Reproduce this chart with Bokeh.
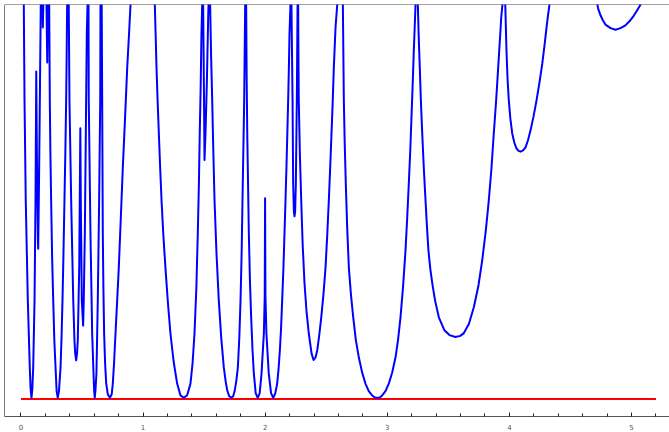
from bokeh.plotting import figure
from bokeh.models import Range1d, SingleIntervalTicker, Span
from bokeh.embed import file_html
from bokeh.resources import INLINE

# Blue curve (values above 10 lie beyond the top of the frame)
curve_x = [
    0.020, 0.023, 0.029, 0.039, 0.056, 0.072, 0.079, 0.086, 0.093, 0.100, 0.111, 0.119, 0.125, 0.130, 0.139, 0.141, 0.149, 0.157, 0.162, 0.167,
    0.175, 0.179, 0.183, 0.188,
    0.204, 0.209, 0.215, 0.220, 0.224,
    0.228, 0.231, 0.236, 0.241, 0.247, 0.255, 0.264, 0.273, 0.283, 0.292, 0.301, 0.311, 0.324, 0.332, 0.340, 0.348, 0.356, 0.363, 0.370, 0.374, 0.378, 0.384,
    0.391, 0.397, 0.411, 0.428, 0.438, 0.444, 0.452, 0.459, 0.465, 0.477, 0.486, 0.490, 0.498, 0.509, 0.514, 0.523, 0.531, 0.539, 0.545, 0.549,
    0.553, 0.555, 0.569, 0.583, 0.594, 0.599, 0.604, 0.610, 0.618, 0.629, 0.640, 0.649, 0.651, 0.656,
    0.661, 0.665, 0.670, 0.675, 0.681, 0.689, 0.698, 0.711, 0.728, 0.743, 0.752, 0.762, 0.774, 0.787, 0.801, 0.817, 0.834, 0.852, 0.870, 0.884, 0.897, 0.910,
    1.085, 1.096, 1.103, 1.110, 1.119, 1.129, 1.140, 1.151, 1.166, 1.183, 1.203, 1.224, 1.250, 1.279, 1.306, 1.333, 1.360, 1.388,
    1.405, 1.421, 1.436, 1.448, 1.457, 1.464, 1.472, 1.478, 1.484, 1.488,
    1.492, 1.499, 1.503, 1.511, 1.522, 1.533, 1.536,
    1.542, 1.549, 1.557, 1.566, 1.575, 1.585, 1.601, 1.620, 1.640, 1.661, 1.676, 1.689, 1.705, 1.722, 1.738, 1.751, 1.764, 1.776,
    1.788, 1.798, 1.807, 1.814, 1.821, 1.828, 1.832, 1.836, 1.840,
    1.842, 1.844, 1.848, 1.853, 1.866, 1.875, 1.885, 1.896, 1.907, 1.922, 1.939, 1.955, 1.970, 1.989, 1.996, 1.999, 2.002, 2.010, 2.029, 2.048, 2.066,
    2.083, 2.098, 2.109, 2.120, 2.130, 2.139, 2.149, 2.158, 2.166, 2.174, 2.181, 2.188, 2.194, 2.199, 2.207, 2.211,
    2.215, 2.224, 2.229, 2.235, 2.240, 2.245, 2.251, 2.259, 2.265, 2.268,
    2.270, 2.272, 2.275, 2.284, 2.295, 2.307, 2.322, 2.339, 2.357, 2.380, 2.396, 2.412, 2.426, 2.442, 2.459, 2.477, 2.494,
    2.508, 2.521, 2.532, 2.543, 2.553, 2.562, 2.576, 2.590, 2.600,
    2.625, 2.636, 2.644, 2.651, 2.660, 2.672, 2.685, 2.702, 2.721, 2.742, 2.767, 2.793, 2.821, 2.848, 2.876, 2.897, 2.917,
    2.938, 2.958, 2.985, 3.012, 3.040, 3.067, 3.088, 3.108, 3.129, 3.149, 3.163, 3.176, 3.188, 3.198, 3.208, 3.217, 3.224, 3.231, 3.241,
    3.250, 3.257, 3.266, 3.275, 3.286, 3.299, 3.313, 3.324, 3.337, 3.352, 3.370, 3.391, 3.422, 3.468, 3.509, 3.558, 3.598, 3.627,
    3.668, 3.708, 3.745, 3.777, 3.806, 3.831, 3.853, 3.872, 3.891, 3.908, 3.922, 3.933, 3.943, 3.954,
    3.962, 3.966, 3.976, 3.985, 3.995, 4.008, 4.023, 4.040, 4.058, 4.075, 4.091, 4.112, 4.132, 4.152, 4.173, 4.198, 4.222,
    4.246, 4.269, 4.287, 4.304, 4.316, 4.328, 4.345,
    4.700, 4.719, 4.727, 4.747, 4.765, 4.787, 4.828, 4.869, 4.910, 4.950, 4.985, 5.019, 5.048, 5.074, 5.100,
]
curve_y = [
    11.0, 10.0, 7.57, 5.03, 2.50, 0.80, 0.25, 0.03, 0.25, 0.80, 2.50, 5.03, 8.30, 6.30, 4.00, 3.81, 5.87, 8.40, 10.0, 11.0,
    10.0, 9.42, 10.0, 11.0,
    11.0, 10.0, 8.53, 10.0, 11.0,
    11.0, 10.0, 7.57, 6.20, 5.03, 3.60, 2.50, 1.50, 0.80, 0.20, 0.03, 0.20, 0.80, 1.55, 2.50, 3.70, 5.03, 6.20, 7.57, 8.70, 10.0, 11.0,
    10.0, 7.57, 5.03, 2.50, 1.48, 1.15, 0.98, 1.15, 1.48, 3.33, 6.86, 5.00, 2.50, 1.86, 2.50, 4.20, 6.73, 9.26, 10.0, 11.0,
    10.0, 7.57, 4.20, 1.66, 0.65, 0.22, 0.03, 0.22, 0.65, 2.50, 5.03, 7.57, 10.0, 11.0,
    10.0, 7.57, 4.20, 2.80, 1.66, 0.90, 0.39, 0.12, 0.03, 0.12, 0.39, 0.90, 1.66, 2.45, 3.33, 4.55, 5.87, 7.10, 8.40, 9.20, 10.0, 11.0,
    11.0, 10.0, 9.20, 8.40, 7.55, 6.73, 5.85, 5.03, 4.15, 3.33, 2.45, 1.66, 0.95, 0.39, 0.09, 0.03, 0.09, 0.39,
    0.90, 1.66, 2.80, 4.20, 5.45, 6.73, 8.00, 9.26, 10.0, 11.0,
    10.0, 7.57, 6.06, 6.73, 8.00, 9.67, 10.0,
    11.0, 10.0, 8.70, 7.57, 6.30, 5.03, 3.70, 2.50, 1.55, 0.80, 0.45, 0.22, 0.07, 0.03, 0.07, 0.22, 0.47, 0.80,
    1.55, 2.50, 3.70, 5.03, 6.30, 7.57, 8.80, 10.0, 11.0,
    11.0, 10.0, 8.20, 6.73, 4.20, 3.00, 2.07, 1.25, 0.65, 0.15, 0.03, 0.15, 0.65, 1.66, 2.60, 5.09, 2.60, 1.66, 0.65, 0.15, 0.03,
    0.15, 0.39, 0.75, 1.23, 1.80, 2.50, 3.30, 4.20, 5.00, 5.87, 6.70, 7.57, 8.40, 9.26, 10.0, 11.0,
    10.0, 7.57, 5.46, 4.75, 4.63, 4.75, 5.46, 7.57, 10.0, 11.0,
    10.0, 8.80, 7.57, 6.20, 5.03, 3.90, 2.93, 2.20, 1.66, 1.15, 0.99, 1.05, 1.23, 1.60, 2.07, 2.65, 3.33,
    4.15, 5.03, 5.85, 6.73, 7.55, 8.40, 9.42, 10.0, 11.0,
    11.0, 10.0, 7.57, 6.50, 5.46, 4.30, 3.33, 2.65, 2.07, 1.50, 1.05, 0.68, 0.39, 0.20, 0.09, 0.04, 0.03,
    0.04, 0.09, 0.20, 0.39, 0.67, 1.05, 1.50, 2.07, 2.85, 3.76, 4.60, 5.46, 6.30, 7.14, 8.00, 8.83, 9.40, 10.0, 11.0,
    10.0, 9.20, 8.40, 7.55, 6.73, 5.85, 5.03, 4.40, 3.76, 3.30, 2.90, 2.50, 2.07, 1.74, 1.62, 1.57, 1.60, 1.67,
    1.90, 2.32, 2.85, 3.51, 4.25, 5.03, 5.85, 6.73, 7.55, 8.40, 9.10, 9.67, 10.0, 11.0,
    11.0, 10.0, 8.83, 8.10, 7.57, 7.10, 6.73, 6.50, 6.35, 6.29, 6.27, 6.30, 6.38, 6.56, 6.81, 7.17, 7.57,
    8.02, 8.50, 8.95, 9.42, 9.72, 10.0, 11.0,
    11.0, 10.02, 9.89, 9.72, 9.60, 9.49, 9.40, 9.36, 9.40, 9.47, 9.58, 9.72, 9.86, 10.0, 10.4,
]

# Red reference line
ref_x = [0.0, 5.2]
ref_y = [0.0, 0.0]

x_lo, x_hi = -0.135, 5.311
y_lo, y_hi = -0.444, 10.0

p = figure(width=669, height=432, output_backend="svg", toolbar_location=None,
           x_range=Range1d(x_lo, x_hi), y_range=Range1d(y_lo, y_hi),
           min_border_left=4, min_border_top=4, min_border_right=0, min_border_bottom=16)
p.xgrid.visible = False
p.ygrid.visible = False
p.outline_line_color = None
p.yaxis.visible = False
p.background_fill_color = "white"
p.border_fill_color = "white"

p.line(ref_x, ref_y, line_color="#ff0000", line_width=2)
p.line(curve_x, curve_y, line_color="#0000ff", line_width=2, line_join="round")

p.add_layout(Span(location=x_lo, dimension="height", line_color="black", line_width=1))
p.add_layout(Span(location=y_hi, dimension="width", line_color="#444444", line_width=1))

ax = p.xaxis[0]
ax.ticker = SingleIntervalTicker(interval=1, num_minor_ticks=5)
ax.axis_line_color = "#555555"
ax.major_tick_in = 4
ax.major_tick_out = 0
ax.minor_tick_in = 3
ax.minor_tick_out = 0
ax.major_tick_line_color = "#222222"
ax.minor_tick_line_color = "#222222"
ax.major_label_text_font = "DejaVu Sans"
ax.major_label_text_font_size = "7px"
ax.major_label_text_color = "#555555"
ax.major_label_standoff = 7

open("out.html", "w").write(file_html(p, INLINE))
